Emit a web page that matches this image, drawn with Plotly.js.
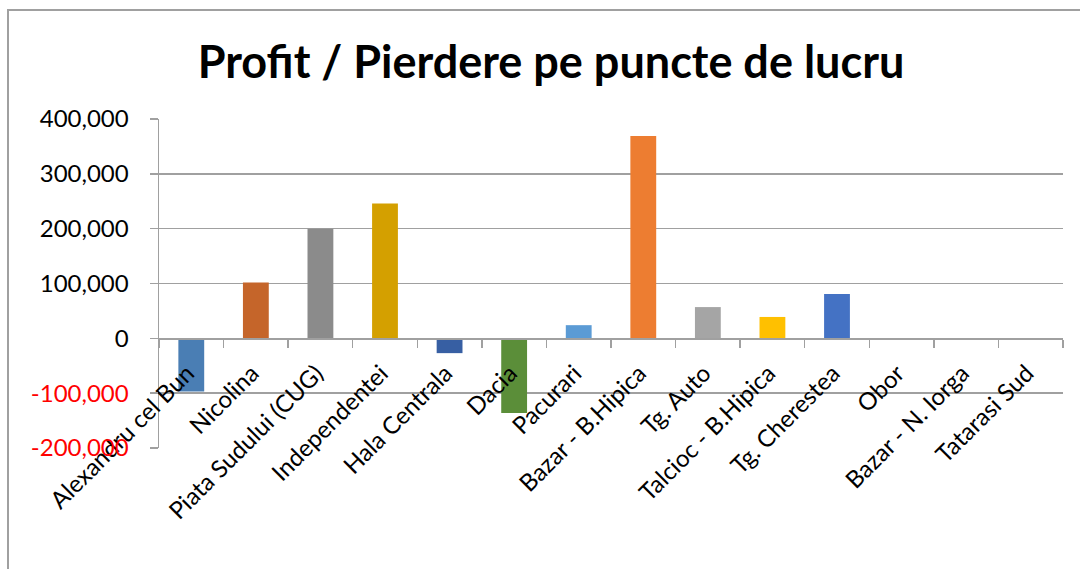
<!DOCTYPE html>
<html>
<head>
<meta charset="utf-8">
<script src="https://cdn.plot.ly/plotly-3.0.1.min.js"></script>
<style>
  html, body { margin: 0; padding: 0; background: #fff; overflow: hidden; width: 1080px; height: 569px; }
  #chart { width: 1080px; height: 569px; position: absolute; left: 0; top: 0; }
</style>
</head>
<body>
<div id="chart"></div>
<script>
const categories = ["Alexandru cel Bun", "Nicolina", "Piata Sudului (CUG)", "Independentei", "Hala Centrala",
  "Dacia", "Pacurari", "Bazar - B.Hipica", "Tg. Auto", "Talcioc - B.Hipica", "Tg. Cherestea",
  "Obor", "Bazar - N. Iorga", "Tatarasi Sud"];
const profitValues = [-97000, 102000, 200000, 246000, -27000, -136000, 24000, 369000, 57000, 39000, 81000, 0, 0, 0];
const barColors = ["#4A7EB4", "#C5652A", "#8B8B8B", "#D4A000", "#375FA3", "#5B8E39", "#5B9BD5",
  "#ED7D31", "#A5A5A5", "#FFC000", "#4472C4", "#70AD47", "#255E91", "#9E480E"];
const yTickVals = [-200000, -100000, 0, 100000, 200000, 300000, 400000];
const yTickText = ['<span style="color:#FF0000">-200,000</span>', '<span style="color:#FF0000">-100,000</span>',
  "0", "100,000", "200,000", "300,000", "400,000"];
const titleText = "Profit / Pierdere pe puncte de lucru";

const lineGray = "#a0a0a0";
const M = { l: 159, r: 17, t: 119, b: 121 };
const W = 1080, H = 569;
const pw = W - M.l - M.r, ph = H - M.t - M.b;
const px2x = p => (p - M.l) / pw;
const py2y = p => (H - M.b - p) / ph;

Plotly.newPlot("chart", [{
  type: "bar",
  x: categories,
  y: profitValues,
  marker: { color: barColors, line: { width: 0 } },
  width: 0.4,
  hoverinfo: "x+y"
}], {
  width: W, height: H,
  margin: M,
  paper_bgcolor: "#fff",
  plot_bgcolor: "rgba(0,0,0,0)",
  showlegend: false,
  font: { family: "Lato, 'Open Sans', sans-serif", color: "#000" },
  title: {
    text: "<b>" + titleText + "</b>",
    font: { family: "Lato, sans-serif", size: 45, color: "#000" },
    x: 551 / 1080, xref: "container", xanchor: "center",
    y: 1 - 62 / 569, yref: "container", yanchor: "middle"
  },
  shapes: [
    { type: "line", xref: "paper", yref: "paper", x0: px2x(8), x1: px2x(8), y0: py2y(10), y1: py2y(569),
      line: { color: lineGray, width: 2 } },
    { type: "line", xref: "paper", yref: "paper", x0: px2x(7), x1: px2x(1080), y0: py2y(10), y1: py2y(10),
      line: { color: lineGray, width: 2 } }
  ],
  xaxis: {
    type: "category",
    anchor: "free",
    position: 1 / 3,
    range: [-0.5, 13.5],
    showline: true, linecolor: lineGray, linewidth: 1.5,
    ticks: "outside", ticklen: 8, tickcolor: lineGray, tickwidth: 1.5,
    tickson: "boundaries",
    tickangle: -45,
    ticklabelstandoff: 10,
    ticklabelshift: -4,
    tickfont: { family: "Lato, sans-serif", size: 24, color: "#000" },
    showgrid: false, zeroline: false
  },
  yaxis: {
    range: [-200000, 400000],
    tickvals: yTickVals, ticktext: yTickText,
    showgrid: true, gridcolor: lineGray, gridwidth: 1.5,
    showline: true, linecolor: lineGray, linewidth: 1.5,
    ticks: "outside", ticklen: 8, tickcolor: lineGray, tickwidth: 1.5,
    ticklabelstandoff: 16,
    tickfont: { family: "Lato, sans-serif", size: 24, color: "#000" },
    zeroline: false
  }
}, { displayModeBar: false, staticPlot: true });
</script>
</body>
</html>
